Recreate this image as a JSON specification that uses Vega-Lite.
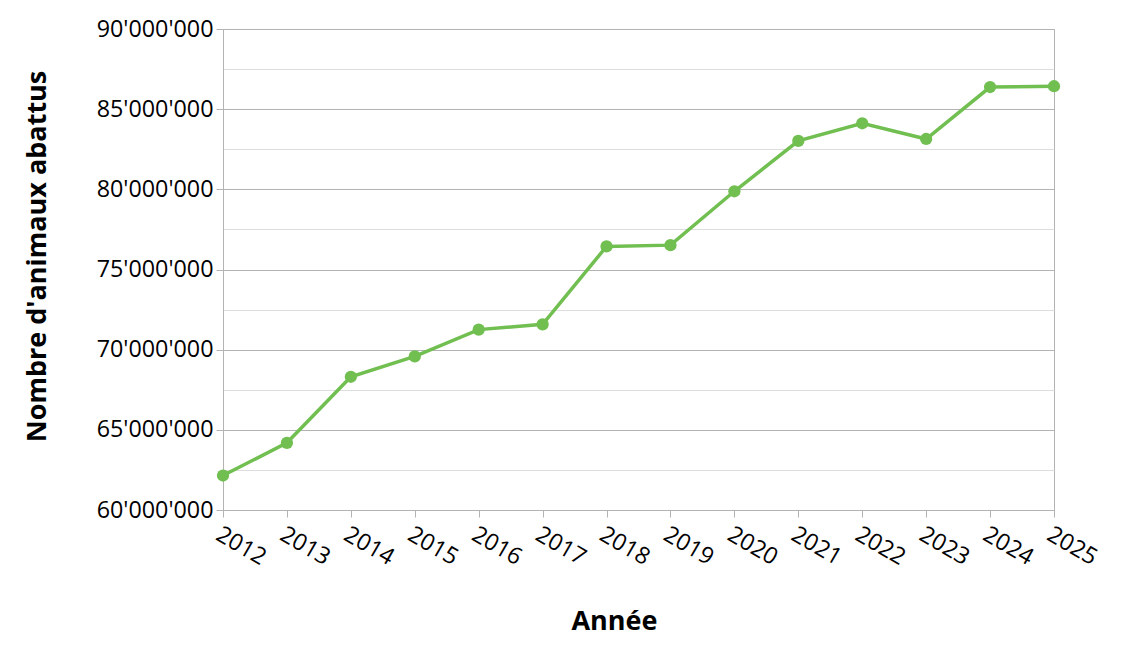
{
  "$schema": "https://vega.github.io/schema/vega-lite/v6.json",
  "autosize": {"type": "none"},
  "padding": {"left": 223, "top": 29, "right": 76, "bottom": 154},
  "width": 831,
  "height": 481,
  "data": {
    "values": [
      {"annee": 2012, "animaux": 62150000},
      {"annee": 2013, "animaux": 64190000},
      {"annee": 2014, "animaux": 68310000},
      {"annee": 2015, "animaux": 69580000},
      {"annee": 2016, "animaux": 71250000},
      {"annee": 2017, "animaux": 71580000},
      {"annee": 2018, "animaux": 76440000},
      {"annee": 2019, "animaux": 76520000},
      {"annee": 2020, "animaux": 79880000},
      {"annee": 2021, "animaux": 83020000},
      {"annee": 2022, "animaux": 84120000},
      {"annee": 2023, "animaux": 83140000},
      {"annee": 2024, "animaux": 86380000},
      {"annee": 2025, "animaux": 86430000}
    ]
  },
  "mark": {"type": "line", "color": "#70bf50", "strokeWidth": 3.5, "point": {"filled": true, "size": 150, "color": "#70bf50"}},
  "encoding": {
    "x": {
      "field": "annee",
      "type": "quantitative",
      "title": "Année",
      "scale": {"domain": [2012, 2025], "nice": false, "zero": false},
      "axis": {
        "values": [2012, 2013, 2014, 2015, 2016, 2017, 2018, 2019, 2020, 2021, 2022, 2023, 2024, 2025],
        "format": "d",
        "grid": false,
        "labelAngle": 30,
        "labelAlign": "left",
        "labelBaseline": "top",
        "labelPadding": 6,
        "titleX": 391,
        "titleY": 111,
        "titleBaseline": "middle"
      }
    },
    "y": {
      "field": "animaux",
      "type": "quantitative",
      "title": "Nombre d'animaux abattus",
      "scale": {"domain": [60000000, 90000000], "nice": false, "zero": false},
      "axis": {
        "values": [60000000, 62500000, 65000000, 67500000, 70000000, 72500000, 75000000, 77500000, 80000000, 82500000, 85000000, 87500000, 90000000],
        "format": ",d",
        "labelExpr": "datum.value % 5000000 === 0 ? datum.label : ''",
        "gridColor": {"condition": {"test": "datum.value % 5000000 === 0", "value": "#b3b3b3"}, "value": "#dddddd"},
        "tickOpacity": {"condition": {"test": "datum.value % 5000000 === 0", "value": 1}, "value": 0},
        "titleX": -186,
        "titleY": 227,
        "titleBaseline": "middle"
      }
    }
  },
  "config": {
    "locale": {"number": {"decimal": ".", "thousands": "'", "grouping": [3], "currency": ["", ""]}},
    "font": "Open Sans",
    "view": {"stroke": "#b3b3b3"},
    "axis": {
      "domainColor": "#b3b3b3",
      "tickColor": "#b3b3b3",
      "tickSize": 7,
      "labelFont": "Open Sans",
      "labelFontSize": 23.3,
      "labelColor": "#000000",
      "labelPadding": 3,
      "titleFont": "Open Sans",
      "titleFontSize": 27,
      "titleFontWeight": "bold",
      "titleColor": "#000000"
    }
  }
}
